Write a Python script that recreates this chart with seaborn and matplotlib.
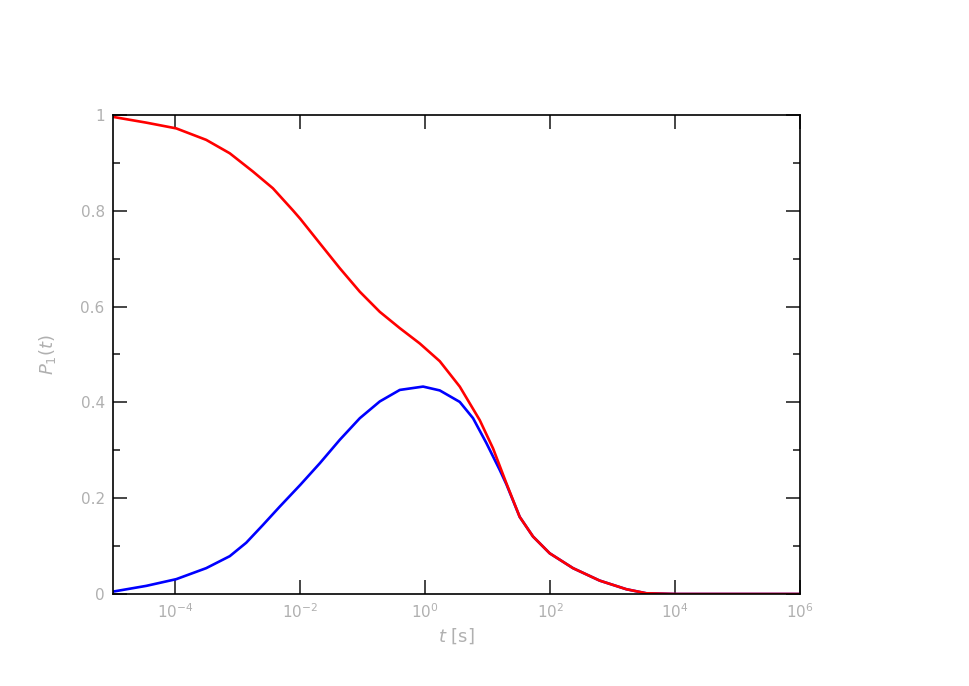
import numpy as np
import pandas as pd
import seaborn as sns
import matplotlib
matplotlib.use("Agg")
import matplotlib.pyplot as plt
from matplotlib.ticker import FixedLocator

# Data (log10 of time in s, probability)
red_logt = [-5.0, -4.467, -3.987, -3.507, -3.13, -2.76, -2.44, -2.12, -2.0, -1.688,
            -1.368, -1.048, -0.728, -0.408, -0.088, 0.232, 0.552, 0.872, 1.085, 1.299,
            1.512, 1.725, 1.992, 2.365, 2.792, 3.219, 3.539, 4.0, 5.0, 6.0]
red_p = [0.996, 0.984, 0.972, 0.948, 0.920, 0.882, 0.847, 0.801, 0.783, 0.732,
         0.680, 0.631, 0.589, 0.555, 0.523, 0.486, 0.433, 0.363, 0.304, 0.231,
         0.161, 0.120, 0.085, 0.054, 0.028, 0.010, 0.0015, 0.0, 0.0, 0.0]

blue_logt = [-5.0, -4.467, -3.987, -3.507, -3.13, -2.867, -2.6, -2.333, -2.0,
             -1.688, -1.368, -1.048, -0.728, -0.408, -0.035, 0.232, 0.552, 0.765, 0.979,
             1.192, 1.299, 1.512, 1.725, 1.992, 2.365, 2.792, 3.219, 3.539, 4.0, 5.0, 6.0]
blue_p = [0.005, 0.017, 0.031, 0.054, 0.079, 0.107, 0.144, 0.182, 0.228,
          0.273, 0.322, 0.367, 0.402, 0.426, 0.433, 0.425, 0.401, 0.367, 0.315,
          0.259, 0.229, 0.161, 0.120, 0.085, 0.054, 0.028, 0.010, 0.0015, 0.0, 0.0, 0.0]

x_ticks = [1e-4, 1e-2, 1e0, 1e2, 1e4, 1e6]
x_tick_labels = [r"$10^{-4}$", r"$10^{-2}$", r"$10^{0}$", r"$10^{2}$", r"$10^{4}$", r"$10^{6}$"]
y_ticks = [0, 0.2, 0.4, 0.6, 0.8, 1.0]
y_tick_labels = ["0", "0.2", "0.4", "0.6", "0.8", "1"]
y_minor = [0.1, 0.3, 0.5, 0.7, 0.9]

sns.set_style("ticks")
plt.rcParams['font.family'] = ['DejaVu Sans']

fig = plt.figure(figsize=(9.69, 6.86), dpi=100)
ax = fig.add_axes([0.1166, 0.1341, 0.7090, 0.6983])

df_blue = pd.DataFrame({"t": 10 ** np.array(blue_logt), "p": blue_p})
df_red = pd.DataFrame({"t": 10 ** np.array(red_logt), "p": red_p})
sns.lineplot(data=df_blue, x="t", y="p", ax=ax, color="#0000ff", lw=1.9, sort=False)
sns.lineplot(data=df_red, x="t", y="p", ax=ax, color="#ff0000", lw=1.9, sort=False)

ax.set_xscale("log")
ax.set_xlim(1e-5, 1e6)
ax.set_ylim(0, 1)
ax.xaxis.set_major_locator(FixedLocator(x_ticks))
ax.set_xticklabels(x_tick_labels)
ax.xaxis.set_minor_locator(FixedLocator([]))
ax.yaxis.set_major_locator(FixedLocator(y_ticks))
ax.set_yticklabels(y_tick_labels)
ax.yaxis.set_minor_locator(FixedLocator(y_minor))

for s in ax.spines.values():
    s.set_linewidth(1.2)
    s.set_color("black")
    s.set_visible(True)

lab_col = "#b0b0b0"
ax.tick_params(which="major", direction="in", length=10, width=1.2, top=True, right=True,
               labelsize=11, labelcolor=lab_col, pad=6)
ax.tick_params(which="minor", direction="in", length=5, width=1.2, top=True, right=True)

ax.set_xlabel(r"$t$ [s]", fontsize=13, color=lab_col, labelpad=4)
ax.set_ylabel(r"$P_1(t)$", fontsize=13, color=lab_col, labelpad=16)

fig.savefig("out.png", dpi=100)
